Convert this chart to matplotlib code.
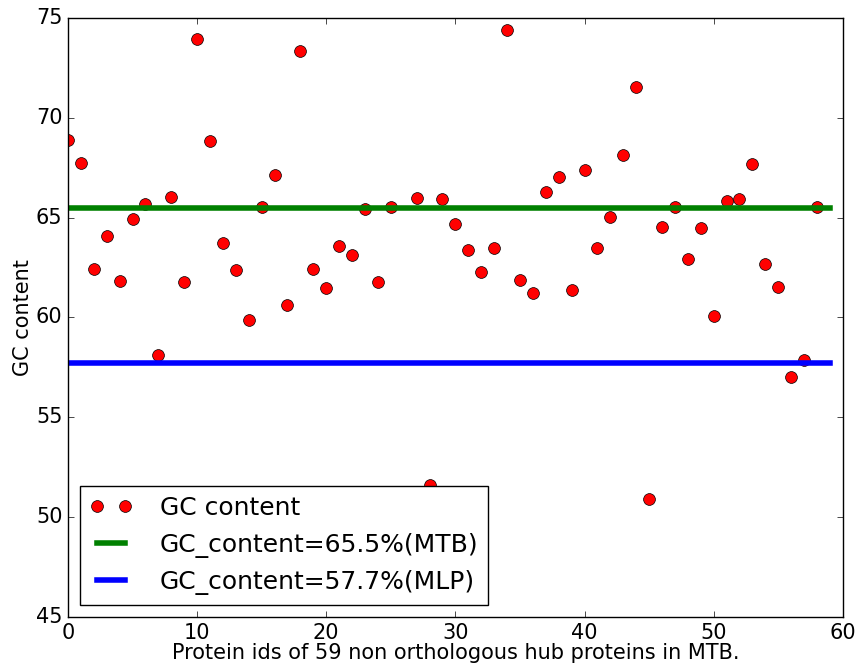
import numpy as np
import matplotlib
matplotlib.use('Agg')
import matplotlib.pyplot as plt

# GC content of the 59 hub proteins
gc_values = [68.86, 67.74, 62.42, 64.08, 61.80, 64.94, 65.67, 58.11, 66.02, 61.77,
             73.95, 68.83, 63.72, 62.35, 59.88, 65.55, 67.14, 60.64, 73.36, 62.42,
             61.47, 63.57, 63.13, 65.42, 61.78, 65.52, 48.50, 66.00, 51.60, 65.95,
             64.70, 63.37, 62.27, 63.48, 74.37, 61.85, 61.21, 66.27, 67.04, 61.38,
             67.37, 63.47, 65.03, 68.14, 71.56, 50.90, 64.52, 65.52, 62.93, 64.48,
             60.09, 65.84, 65.94, 67.69, 62.67, 61.51, 57.04, 57.87, 65.55]
protein_ids = np.arange(len(gc_values))

mtb_gc = 65.5
mlp_gc = 57.7
line_x = [0, 59]

plt.style.use('classic')
fig = plt.figure(figsize=(8.6, 6.68), dpi=100, facecolor='white')
ax = fig.add_axes([0.079, 0.0763, 0.901, 0.897])

ax.plot(protein_ids, gc_values, 'ro', markersize=8.5, label='GC content')
ax.plot(line_x, [mtb_gc, mtb_gc], color='green', linewidth=4,
        label='GC_content=65.5%(MTB)')
ax.plot(line_x, [mlp_gc, mlp_gc], color='blue', linewidth=4,
        label='GC_content=57.7%(MLP)')

ax.set_xlim(0, 60)
ax.set_ylim(45, 75)
ax.tick_params(labelsize=15)
ax.set_xlabel('Protein ids of 59 non orthologous hub proteins in MTB.', fontsize=15, labelpad=0)
ax.set_ylabel('GC content', fontsize=15, labelpad=2)

leg = ax.legend(loc='lower left', numpoints=2, fontsize=18, handlelength=1.7,
                handletextpad=1.1, bbox_to_anchor=(0.015, 0.02), borderaxespad=0)
leg.get_frame().set_linewidth(1.0)

fig.savefig('out.png', dpi=100, facecolor='white')
